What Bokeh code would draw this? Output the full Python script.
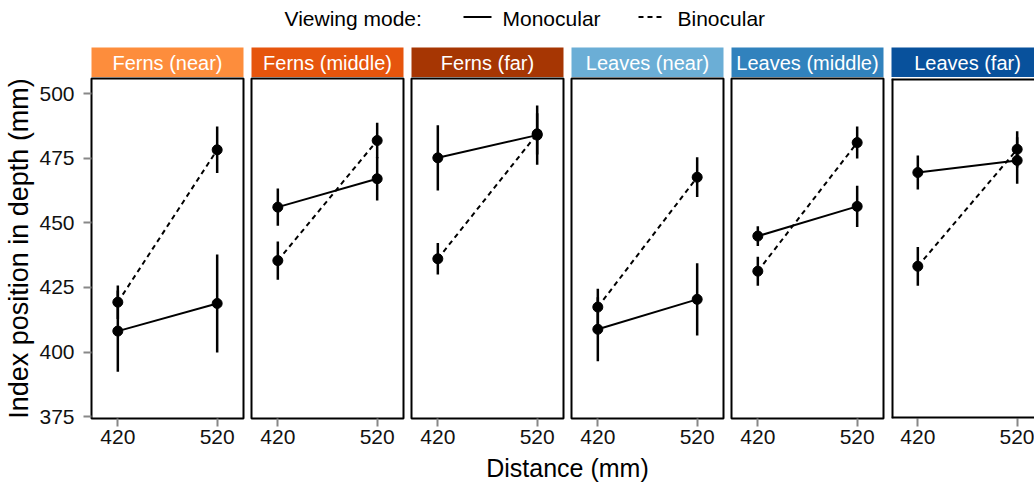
from bokeh.plotting import figure
from bokeh.layouts import row, column
from bokeh.models import Range1d, FixedTicker, Span
from bokeh.embed import file_html
from bokeh.resources import INLINE
from bokeh.core.properties import value

# ---------------- data ----------------
panels = ["Ferns (near)", "Ferns (middle)", "Ferns (far)",
          "Leaves (near)", "Leaves (middle)", "Leaves (far)"]
strip_colors = ["#FD8D3C", "#E6550D", "#A63603", "#6BAED6", "#3182BD", "#08519C"]
distances = [420, 520]
mono_mean = [[408.1, 418.8], [456.1, 467.1], [475.2, 484.0],
             [408.8, 420.4], [444.9, 456.4], [469.5, 474.2]]
mono_err = [[15.7, 19.0], [7.2, 8.4], [12.6, 11.5],
            [12.4, 14.0], [3.8, 8.0], [6.6, 9.0]]
bino_mean = [[419.3, 478.3], [435.4, 481.9], [436.1, 484.5],
             [417.4, 467.7], [431.3, 481.1], [433.2, 478.5]]
bino_err = [[6.5, 9.0], [7.4, 6.9], [6.1, 8.0],
            [7.1, 7.7], [5.6, 6.2], [7.5, 7.0]]
y_ticks = [375, 400, 425, 450, 475, 500]
legend_title = "Viewing mode:"
legend_labels = ["Monocular", "Binocular"]
x_title = "Distance (mm)"
y_title = "Index position in depth (mm)"

# ---------------- layout constants ----------------
FONT = "Liberation Sans"
X0, X1 = 393.5, 546.5
Y0, Y1 = 374.25, 505.93
FW, FH = 152, 340
LEFT = 91
SIDE = 4
B = 35
TOTAL_W = 1034
TOTAL_H = 482
LEG_H, STRIP_H = 47, 30
TITLE_H = TOTAL_H - LEG_H - STRIP_H - (1 + FH + B)


def blank(p):
    p.title.visible = False
    p.axis.visible = False
    p.grid.visible = False
    p.outline_line_color = None
    return p


def make_panel(i):
    first = i == 0
    last = i == len(panels) - 1
    ml = LEFT if first else SIDE
    mr = 0 if last else SIDE
    fw = FW if not last else TOTAL_W - (LEFT + FW + SIDE) - 4 * (FW + 2 * SIDE) - SIDE
    x_end = X1 if not last else X0 + fw * (X1 - X0) / FW

    # strip
    s = figure(width=ml + fw + mr, height=STRIP_H, x_range=Range1d(0, fw),
               y_range=Range1d(0, STRIP_H), output_backend="svg",
               toolbar_location=None, min_border_left=ml, min_border_right=mr,
               min_border_top=0, min_border_bottom=0,
               background_fill_color=strip_colors[i], border_fill_color="white")
    blank(s)
    s.text(x=[FW / 2], y=[STRIP_H / 2], text=[panels[i]],
           text_font=value(FONT), text_font_size="20px", text_color="white",
           text_align="center", text_baseline="middle")

    # main panel
    p = figure(width=ml + fw + mr, height=1 + FH + B,
               x_range=Range1d(X0, x_end), y_range=Range1d(Y0, Y1),
               output_backend="svg", toolbar_location=None,
               min_border_left=ml, min_border_right=mr,
               min_border_top=1, min_border_bottom=B,
               y_axis_location="left" if first else None,
               background_fill_color="white", border_fill_color="white")
    p.title.visible = False
    p.grid.visible = False
    if last:
        p.outline_line_color = None
        for loc, dim in [(X0, "height"), (Y0, "width"), (Y1, "width")]:
            p.add_layout(Span(location=loc, dimension=dim, line_color="black", line_width=4))
    else:
        p.outline_line_color = "black"
        p.outline_line_width = 2
        p.outline_line_alpha = 1

    axes = [p.xaxis[0]] + ([p.yaxis[0]] if first else [])
    for ax in axes:
        ax.axis_line_color = None
        ax.major_tick_line_color = "#888888"
        ax.major_tick_line_width = 2
        ax.major_tick_out = 8
        ax.major_tick_in = 0
        ax.minor_tick_line_color = None
        ax.major_label_text_font = FONT
        ax.major_label_text_font_size = "21px"
        ax.major_label_text_color = "#111111"
    p.xaxis[0].ticker = FixedTicker(ticks=distances)
    p.xaxis[0].major_label_standoff = 3
    if first:
        ya = p.yaxis[0]
        ya.ticker = FixedTicker(ticks=y_ticks)
        ya.major_label_standoff = 9
        ya.axis_label = y_title
        ya.axis_label_text_font = FONT
        ya.axis_label_text_font_size = "27px"
        ya.axis_label_text_font_style = "normal"
        ya.axis_label_text_color = "black"
        ya.axis_label_standoff = 2

    mm, me = mono_mean[i], mono_err[i]
    bm, be = bino_mean[i], bino_err[i]
    p.line(distances, mm, line_color="black", line_width=2)
    p.line(distances, bm, line_color="black", line_width=2, line_dash="5 4")
    p.segment(x0=distances, x1=distances,
              y0=[m - e for m, e in zip(bm, be)], y1=[m + e for m, e in zip(bm, be)],
              line_color="black", line_width=2.5)
    p.segment(x0=distances, x1=distances,
              y0=[m - e for m, e in zip(mm, me)], y1=[m + e for m, e in zip(mm, me)],
              line_color="black", line_width=2.5)
    p.scatter(distances, bm, size=10, color="black")
    p.scatter(distances, mm, size=10, color="black")
    return column(s, p, spacing=0)


# ---------------- legend ----------------
leg = figure(width=TOTAL_W, height=LEG_H, x_range=Range1d(0, TOTAL_W),
             y_range=Range1d(0, LEG_H), output_backend="svg", toolbar_location=None,
             min_border=0)
blank(leg)
ty = LEG_H - 17.5
ly = LEG_H - 16.5
leg.text(x=[284], y=[ty], text=[legend_title], text_font=value(FONT),
         text_font_size="21px", text_color="black", text_baseline="middle")
leg.line([463, 491], [ly, ly], line_color="black", line_width=2)
leg.text(x=[502], y=[ty], text=[legend_labels[0]], text_font=value(FONT),
         text_font_size="21px", text_color="black", text_baseline="middle")
leg.line([638, 664], [ly, ly], line_color="black", line_width=2, line_dash="5 4")
leg.text(x=[677], y=[ty], text=[legend_labels[1]], text_font=value(FONT),
         text_font_size="21px", text_color="black", text_baseline="middle")

# ---------------- x title ----------------
xt = figure(width=TOTAL_W, height=TITLE_H, x_range=Range1d(0, TOTAL_W),
            y_range=Range1d(0, TITLE_H), output_backend="svg", toolbar_location=None,
            min_border=0)
blank(xt)
xt.text(x=[567], y=[TITLE_H / 2], text=[x_title], text_font=value(FONT),
        text_font_size="25px", text_color="black", text_align="center",
        text_baseline="middle")

layout = column(leg, row(*[make_panel(i) for i in range(len(panels))], spacing=0),
                xt, spacing=0)

open("out.html", "w").write(file_html(layout, INLINE))
